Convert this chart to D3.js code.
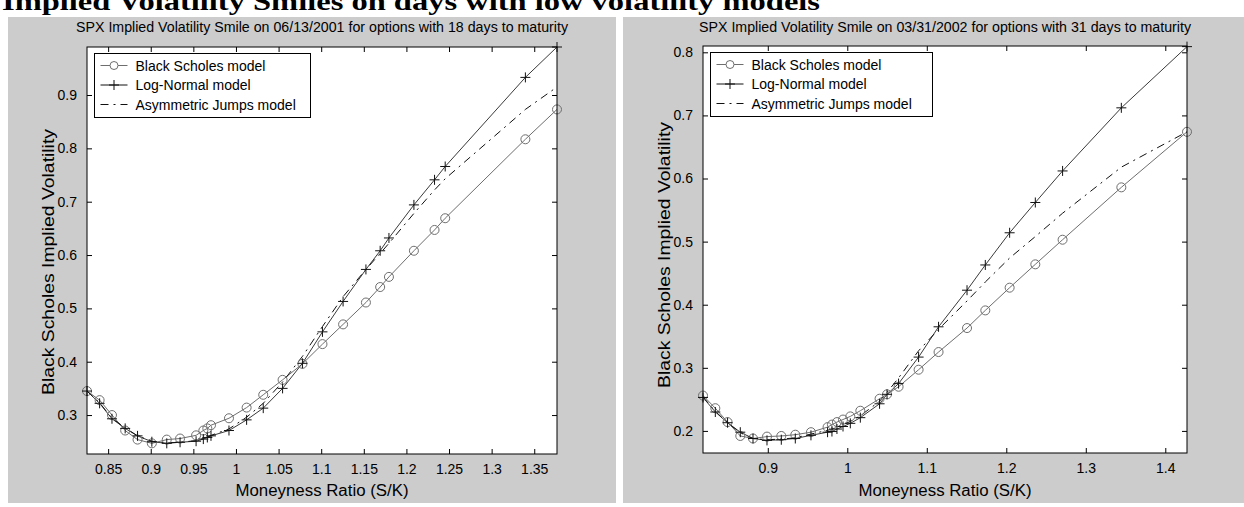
<!DOCTYPE html>
<html>
<head>
<meta charset="utf-8">
<script src="https://cdn.jsdelivr.net/npm/d3@7"></script>
<style>
  body { margin: 0; background: #fff; }
  svg { display: block; }
  text { font-family: "Liberation Sans", Arial, Helvetica, sans-serif; fill: #000; }
</style>
</head>
<body>
<script>

// ---- data ----

const pageTitle = 'Implied Volatility Smiles on days with low volatility models';
const seriesNames = ['Black Scholes model', 'Log-Normal model', 'Asymmetric Jumps model'];

// 06/13/2001, 18 days to maturity
const leftMoneyness = [0.8252, 0.840, 0.8545, 0.870, 0.8845, 0.9013, 0.9188, 0.9344, 0.9532, 0.9617,
  0.9664, 0.9707, 0.9918, 1.0125, 1.032, 1.0547, 1.078, 1.1015, 1.1257, 1.1525,
  1.1692, 1.1795, 1.2088, 1.233, 1.2455, 1.3396, 1.3767];
const leftBlackScholes = [0.345, 0.328, 0.300, 0.271, 0.254, 0.247, 0.254, 0.256, 0.262, 0.271,
  0.275, 0.281, 0.294, 0.314, 0.338, 0.366, 0.396, 0.433, 0.470, 0.511,
  0.540, 0.559, 0.608, 0.647, 0.669, 0.817, 0.873];
const leftLogNormal = [0.345, 0.322, 0.293, 0.275, 0.261, 0.250, 0.247, 0.249, 0.251, 0.255,
  0.258, 0.261, 0.271, 0.291, 0.313, 0.350, 0.397, 0.456, 0.513, 0.573,
  0.608, 0.632, 0.694, 0.741, 0.766, 0.933, 0.990];
const leftAsymJumps = [0.345, 0.323, 0.294, 0.276, 0.261, 0.251, 0.248, 0.249, 0.252, 0.256,
  0.259, 0.262, 0.274, 0.296, 0.322, 0.362, 0.410, 0.466, 0.522, 0.573,
  0.603, 0.622, 0.678, 0.722, 0.743, 0.873, 0.915];
const leftXTicks = [0.85, 0.9, 0.95, 1, 1.05, 1.1, 1.15, 1.2, 1.25, 1.3, 1.35];
const leftYTicks = [0.3, 0.4, 0.5, 0.6, 0.7, 0.8, 0.9];

// 03/31/2002, 31 days to maturity
const rightMoneyness = [0.8185, 0.834, 0.8494, 0.8654, 0.8814, 0.899, 0.917, 0.9346, 0.9543, 0.9752,
  0.9807, 0.987, 0.9946, 1.0038, 1.0164, 1.0406, 1.05, 1.0645, 1.0897, 1.1148,
  1.1506, 1.1736, 1.2042, 1.2365, 1.2708, 1.3447, 1.4273];
const rightBlackScholes = [0.256, 0.236, 0.214, 0.192, 0.188, 0.191, 0.192, 0.194, 0.198, 0.206,
  0.210, 0.214, 0.218, 0.223, 0.232, 0.251, 0.258, 0.270, 0.297, 0.325,
  0.363, 0.391, 0.427, 0.464, 0.503, 0.586, 0.674];
const rightLogNormal = [0.253, 0.230, 0.213, 0.198, 0.188, 0.185, 0.186, 0.188, 0.193, 0.198,
  0.199, 0.203, 0.207, 0.212, 0.221, 0.243, 0.258, 0.275, 0.317, 0.365,
  0.423, 0.463, 0.514, 0.562, 0.612, 0.712, 0.809];
const rightAsymJumps = [0.254, 0.231, 0.213, 0.197, 0.188, 0.186, 0.187, 0.189, 0.195, 0.201,
  0.203, 0.206, 0.210, 0.215, 0.224, 0.247, 0.261, 0.284, 0.327, 0.361,
  0.406, 0.436, 0.474, 0.508, 0.545, 0.618, 0.674];
const rightXTicks = [0.9, 1, 1.1, 1.2, 1.3, 1.4];
const rightYTicks = [0.2, 0.3, 0.4, 0.5, 0.6, 0.7, 0.8];

// ---- drawing ----

const WIDTH = 1244, HEIGHT = 507;

const svg = d3.select('body').append('svg')
  .attr('width', WIDTH)
  .attr('height', HEIGHT);

svg.append('text')
  .attr('x', 2)
  .attr('y', 10)
  .attr('textLength', 818)
  .attr('lengthAdjust', 'spacingAndGlyphs')
  .style('font-family', '"Liberation Serif", "Times New Roman", serif')
  .style('font-weight', 'bold')
  .style('font-size', '26px')
  .text(pageTitle);

const panels = [
  {
    bg: [8, 616],
    box: { left: 87, right: 557, top: 47, bottom: 454 },
    title: 'SPX Implied Volatility Smile on 06/13/2001 for options with 18 days to maturity',
    x: leftMoneyness, bs: leftBlackScholes, ln: leftLogNormal, aj: leftAsymJumps,
    yDomain: [0.227, 0.99], xTicks: leftXTicks, yTicks: leftYTicks,
    yLabelX: 54, yLabelMid: 262
  },
  {
    bg: [623, 1244],
    box: { left: 703, right: 1187, top: 46, bottom: 453 },
    title: 'SPX Implied Volatility Smile on 03/31/2002 for options with 31 days to maturity',
    x: rightMoneyness, bs: rightBlackScholes, ln: rightLogNormal, aj: rightAsymJumps,
    yDomain: [0.165, 0.81], xTicks: rightXTicks, yTicks: rightYTicks,
    yLabelX: 670, yLabelMid: 255
  }
];

panels.forEach((p) => drawPanel(p));

function drawPanel(p) {

  const b = p.box;

  svg.append('rect')
    .attr('x', p.bg[0]).attr('y', 17)
    .attr('width', p.bg[1] - p.bg[0]).attr('height', 486)
    .attr('fill', '#cccccc');

  const x = d3.scaleLinear().domain(d3.extent(p.x)).range([b.left, b.right]);
  const y = d3.scaleLinear().domain(p.yDomain).range([b.bottom, b.top]);

  const g = svg.append('g');

  g.append('rect')
    .attr('x', b.left).attr('y', b.top)
    .attr('width', b.right - b.left).attr('height', b.bottom - b.top)
    .attr('fill', '#fff');

  const fmt = (d) => String(d);

  // axes with inward ticks on all four sides
  g.append('g').attr('transform', `translate(0,${b.bottom})`)
    .call(d3.axisBottom(x).tickValues(p.xTicks).tickSizeInner(-5).tickSizeOuter(0).tickPadding(10).tickFormat(fmt))
    .call(styleAxis);
  g.append('g').attr('transform', `translate(0,${b.top})`)
    .call(d3.axisTop(x).tickValues(p.xTicks).tickSizeInner(-5).tickSizeOuter(0).tickFormat(''))
    .call(styleAxis);
  g.append('g').attr('transform', `translate(${b.left},0)`)
    .call(d3.axisLeft(y).tickValues(p.yTicks).tickSizeInner(-5).tickSizeOuter(0).tickPadding(10).tickFormat(fmt))
    .call(styleAxis);
  g.append('g').attr('transform', `translate(${b.right},0)`)
    .call(d3.axisRight(y).tickValues(p.yTicks).tickSizeInner(-5).tickSizeOuter(0).tickFormat(''))
    .call(styleAxis);

  const plot = g.append('g');
  const line = (vals) => d3.line().x((d, i) => x(p.x[i])).y((d) => y(d))(vals);

  plot.append('path')
    .attr('d', line(p.bs))
    .attr('fill', 'none').attr('stroke', '#6e6e6e').attr('stroke-width', 1);
  plot.append('path')
    .attr('d', line(p.ln))
    .attr('fill', 'none').attr('stroke', '#3a3a3a').attr('stroke-width', 1);
  plot.append('path')
    .attr('d', line(p.aj))
    .attr('fill', 'none').attr('stroke', '#111').attr('stroke-width', 1)
    .attr('stroke-dasharray', '8,5,2,5');

  plot.selectAll('.bs').data(p.bs).enter().append('circle')
    .attr('cx', (d, i) => x(p.x[i])).attr('cy', (d) => y(d))
    .attr('r', 4.5)
    .attr('fill', 'none').attr('stroke', '#6e6e6e');

  plot.selectAll('.ln').data(p.ln).enter().append('path')
    .attr('d', (d, i) => plus(x(p.x[i]), y(d), 5))
    .attr('stroke', '#111').attr('fill', 'none');

  // frame on top
  g.append('rect')
    .attr('x', b.left).attr('y', b.top)
    .attr('width', b.right - b.left).attr('height', b.bottom - b.top)
    .attr('fill', 'none').attr('stroke', '#000');

  // legend
  const lx = b.left + 7.5, ly = b.top + 6.5;
  const legend = g.append('g').attr('transform', `translate(${lx},${ly})`);
  legend.append('rect')
    .attr('width', p.bg[0] < 100 ? 216 : 222).attr('height', 64)
    .attr('fill', '#fff').attr('stroke', '#000');

  seriesNames.forEach((name, i) => {
    const cy = 12 + i * 19.5;
    const seg = legend.append('line')
      .attr('x1', 6).attr('x2', 33).attr('y1', cy).attr('y2', cy)
      .attr('stroke', i === 0 ? '#6e6e6e' : '#111');
    if (i === 2) seg.attr('stroke-dasharray', '8,5,2,5');
    if (i === 0) legend.append('circle').attr('cx', 19.5).attr('cy', cy).attr('r', 4)
      .attr('fill', '#fff').attr('stroke', '#6e6e6e');
    if (i === 1) legend.append('path').attr('d', plus(19.5, cy, 5)).attr('stroke', '#111');
    legend.append('text')
      .attr('x', 41).attr('y', cy + 5)
      .style('font-size', '14px')
      .text(name);
  });

  const midX = (b.left + b.right) / 2;

  g.append('text')
    .attr('x', midX).attr('y', 32)
    .attr('text-anchor', 'middle')
    .attr('textLength', 492)
    .attr('lengthAdjust', 'spacingAndGlyphs')
    .style('font-size', '14px')
    .text(p.title);

  g.append('text')
    .attr('x', midX).attr('y', 496)
    .attr('text-anchor', 'middle')
    .attr('textLength', 173)
    .attr('lengthAdjust', 'spacingAndGlyphs')
    .style('font-size', '16px')
    .text('Moneyness Ratio (S/K)');

  g.append('text')
    .attr('transform', `translate(${p.yLabelX},${p.yLabelMid}) rotate(-90)`)
    .attr('text-anchor', 'middle')
    .attr('textLength', 266)
    .attr('lengthAdjust', 'spacingAndGlyphs')
    .style('font-size', '17px')
    .text('Black Scholes Implied Volatility');
}

function plus(cx, cy, s) {
  return `M${cx - s},${cy}H${cx + s}M${cx},${cy - s}V${cy + s}`;
}

function styleAxis(sel) {
  sel.select('.domain').remove();
  sel.selectAll('line').attr('stroke', '#000');
  sel.selectAll('text').style('font-size', '14px').attr('fill', '#000');
}

</script>
</body>
</html>
